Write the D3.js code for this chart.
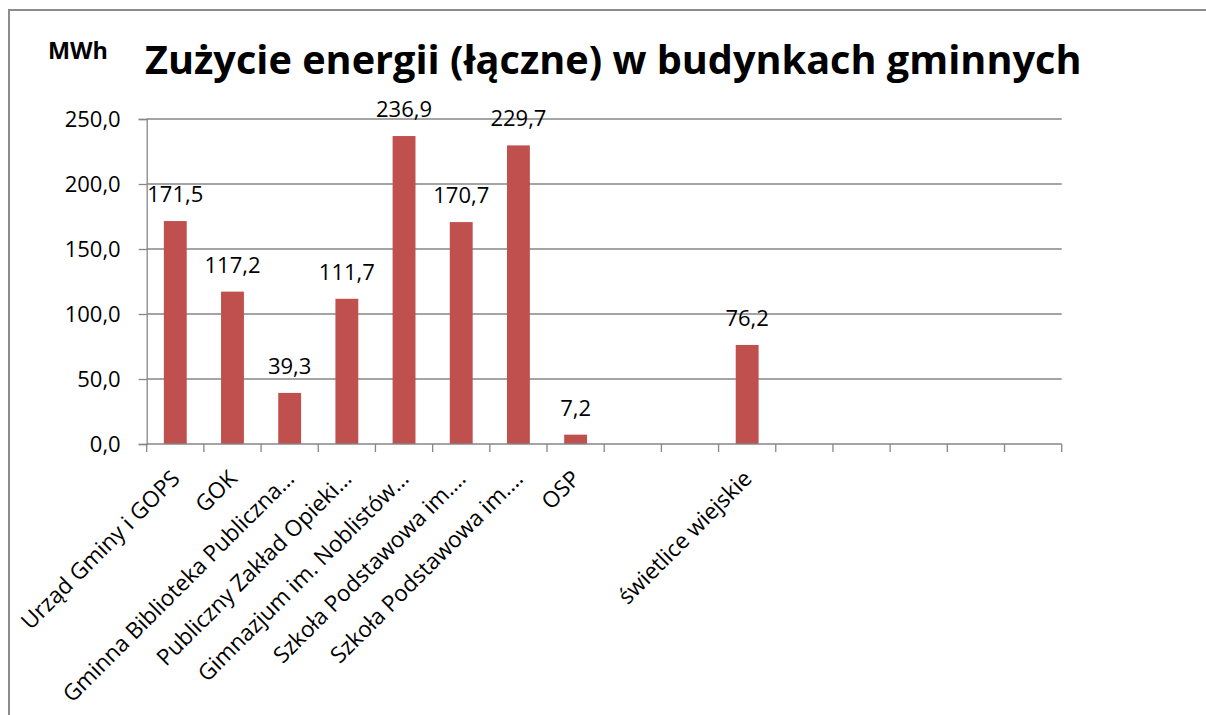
<!DOCTYPE html>
<html>
<head>
<meta charset="utf-8">
<script src="https://cdn.jsdelivr.net/npm/d3@7"></script>
<style>
  body { margin: 0; background: #fff; }
  svg text { font-family: "Open Sans", sans-serif; fill: #000; }
</style>
</head>
<body>
<div id="chart"></div>
<script>
var categories = [
  "Urząd Gminy i GOPS",
  "GOK",
  "Gminna Biblioteka Publiczna…",
  "Publiczny Zakład Opieki…",
  "Gimnazjum im. Noblistów…",
  "Szkoła Podstawowa im.…",
  "Szkoła Podstawowa im.…",
  "OSP",
  "",
  "",
  "świetlice wiejskie",
  "",
  "",
  "",
  "",
  ""
];
var values = [171.5, 117.2, 39.3, 111.7, 236.9, 170.7, 229.7, 7.2, null, null, 76.2, null, null, null, null, null];
var yTicks = [0, 50, 100, 150, 200, 250];
var titleText = "Zużycie energii (łączne) w budynkach gminnych";
var unitText = "MWh";

var width = 1206, height = 715;
var plotLeft = 146.7, plotRight = 1061.7, plotTop = 119, plotBottom = 444;
var fmt = function(v) { return v.toFixed(1).replace(".", ","); };

var data = categories.map(function(c, i) { return { i: i, name: c, value: values[i] }; });

var svg = d3.select("#chart").append("svg")
    .attr("width", width)
    .attr("height", height);

// chart frame
svg.append("path")
    .attr("d", "M9,715 L9,10 L1206,10")
    .attr("fill", "none")
    .attr("stroke", "#8c8c8c")
    .attr("stroke-width", 2);

var x = d3.scaleBand()
    .domain(data.map(function(d) { return d.i; }))
    .range([plotLeft, plotRight])
    .padding(0);

var y = d3.scaleLinear().domain([0, 250]).range([plotBottom, plotTop]);

// gridlines
svg.append("g").selectAll("line")
    .data(yTicks.filter(function(t) { return t > 0; }))
  .enter().append("line")
    .attr("x1", plotLeft).attr("x2", plotRight)
    .attr("y1", function(d) { return y(d); })
    .attr("y2", function(d) { return y(d); })
    .attr("stroke", "#868686")
    .attr("stroke-width", 1.3);

// y axis
var yAxis = svg.append("g")
    .attr("transform", "translate(" + plotLeft + ",0)")
    .call(d3.axisLeft(y).tickValues(yTicks).tickSize(8).tickPadding(18).tickFormat(fmt));
yAxis.select(".domain").attr("stroke", "#868686").attr("stroke-width", 1.3);
yAxis.selectAll(".tick line").attr("stroke", "#868686").attr("stroke-width", 1.3);
yAxis.selectAll(".tick text")
    .style("font-size", "22px")
    .style("font-family", "'Open Sans', sans-serif")
    .attr("fill", "#000");

// bars
var bw = x.bandwidth() * 0.4;
svg.append("g").selectAll("rect")
    .data(data.filter(function(d) { return d.value != null; }))
  .enter().append("rect")
    .attr("x", function(d) { return x(d.i) + (x.bandwidth() - bw) / 2; })
    .attr("y", function(d) { return y(d.value); })
    .attr("width", bw)
    .attr("height", function(d) { return y(0) - y(d.value); })
    .attr("fill", "#C0504D");

// x axis
svg.append("line")
    .attr("x1", plotLeft).attr("x2", plotRight)
    .attr("y1", plotBottom).attr("y2", plotBottom)
    .attr("stroke", "#868686").attr("stroke-width", 1.3);
svg.append("g").selectAll("line")
    .data(d3.range(categories.length + 1))
  .enter().append("line")
    .attr("x1", function(k) { return plotLeft + k * x.step(); })
    .attr("x2", function(k) { return plotLeft + k * x.step(); })
    .attr("y1", plotBottom).attr("y2", plotBottom + 8)
    .attr("stroke", "#868686").attr("stroke-width", 1.3);

svg.append("g").selectAll("text")
    .data(data.filter(function(d) { return d.name; }))
  .enter().append("text")
    .attr("transform", function(d) {
      var cx = x(d.i) + x.bandwidth() / 2 + 6;
      return "translate(" + cx + "," + (plotBottom + 36) + ") rotate(-45)";
    })
    .attr("text-anchor", "end")
    .style("font-size", "22.5px")
    .text(function(d) { return d.name; });

// value labels
svg.append("g").selectAll("text")
    .data(data.filter(function(d) { return d.value != null; }))
  .enter().append("text")
    .attr("x", function(d) { return x(d.i) + x.bandwidth() / 2; })
    .attr("y", function(d) { return y(d.value) - 19; })
    .attr("text-anchor", "middle")
    .style("font-size", "22px")
    .text(function(d) { return fmt(d.value); });

// title, scaled to fill its original span
var title = svg.append("text")
    .attr("x", 145).attr("y", 74)
    .style("font-size", "40px")
    .style("font-weight", "bold")
    .text(titleText);
var tl = title.node().getComputedTextLength();
title.style("font-size", (40 * 937 / tl) + "px");

var unit = svg.append("text")
    .attr("x", 48).attr("y", 59)
    .style("font-size", "20px")
    .style("font-weight", "bold")
    .text(unitText);
var ul = unit.node().getComputedTextLength();
unit.style("font-size", (20 * 60 / ul) + "px");
</script>
</body>
</html>
